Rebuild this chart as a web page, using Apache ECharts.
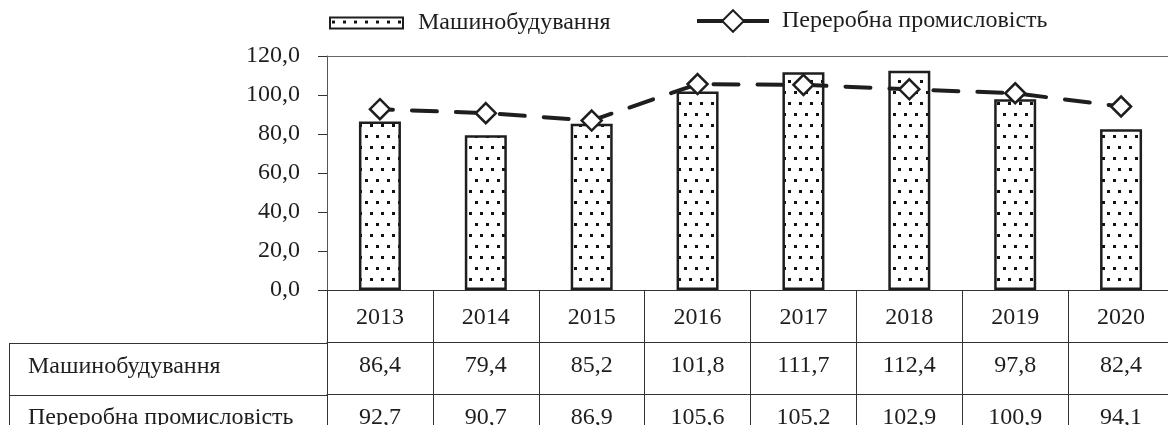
<!DOCTYPE html>
<html>
<head>
<meta charset="utf-8">
<script src="https://cdn.jsdelivr.net/npm/echarts@6/dist/echarts.min.js"></script>
<style>
  html, body { margin: 0; padding: 0; background: #fff; }
  #chart { width: 1168px; height: 425px; }
</style>
</head>
<body>
<div id="chart"></div>
<script>
const years = ["2013", "2014", "2015", "2016", "2017", "2018", "2019", "2020"];
const machinery = [86.4, 79.4, 85.2, 101.8, 111.7, 112.4, 97.8, 82.4];
const processing = [92.7, 90.7, 86.9, 105.6, 105.2, 102.9, 100.9, 94.1];
const machineryName = "Машинобудування";
const processingName = "Переробна промисловість";
const yMin = 0;
const yMax = 120;
const yStep = 20;

const FONT = "Liberation Serif";
const FS = 24;
const INK = "#1e1e1e";

function comma(value) {
  return Number(value).toFixed(1).replace(".", ",");
}

function dotPattern() {
  const c = document.createElement("canvas");
  c.width = 22;
  c.height = 22;
  const ctx = c.getContext("2d");
  ctx.fillStyle = "#111";
  [[2, 3], [13, 3], [7, 14], [18, 14]].forEach(([x, y]) => ctx.fillRect(x, y, 3, 3));
  return c;
}

const chart = echarts.init(document.getElementById("chart"), null, { renderer: "canvas" });
const pattern = { image: dotPattern(), repeat: "repeat" };
const text = { fontFamily: FONT, fontSize: FS, color: INK };

const tableAxis = (offset, values) => ({
  type: "category",
  position: "bottom",
  offset,
  data: years,
  axisLine: { show: true, lineStyle: { color: "#333", width: 1 } },
  axisTick: { show: false },
  axisLabel: { ...text, margin: 12, formatter: (v, i) => comma(values[i]) }
});

chart.setOption({
  animation: false,
  backgroundColor: "#fff",
  textStyle: { fontFamily: FONT },
  legend: [
    {
      top: 11,
      left: 329,
      padding: 0,
      itemWidth: 73,
      itemHeight: 11,
      textStyle: { ...text, padding: [0, 0, 0, 10] },
      data: [{ name: machineryName, icon: "rect" }]
    },
    {
      top: 9,
      left: 695,
      padding: 0,
      itemWidth: 72,
      itemHeight: 27,
      textStyle: { ...text, padding: [0, 0, 0, 8] },
      lineStyle: { width: 4, type: "solid", cap: "butt" },
      data: [{ name: processingName }]
    }
  ],
  grid: { left: 327, right: -6, top: 56, bottom: 135, outerBoundsMode: "none", containLabel: false },
  xAxis: [
    {
      type: "category",
      position: "bottom",
      data: years,
      axisLine: { show: true, lineStyle: { color: "#333", width: 1 } },
      axisTick: { show: true, length: 140, lineStyle: { color: "#333", width: 1 } },
      axisLabel: { ...text, margin: 16 }
    },
    tableAxis(52, machinery),
    tableAxis(104, processing),
    {
      type: "category",
      position: "top",
      data: years,
      axisLine: { show: true, lineStyle: { color: "#666", width: 1 } },
      axisTick: { show: false },
      axisLabel: { show: false }
    }
  ],
  yAxis: {
    type: "value",
    min: yMin,
    max: yMax,
    interval: yStep,
    axisLine: { show: true, lineStyle: { color: "#555", width: 1 } },
    axisTick: { show: true, length: 9, lineStyle: { color: "#333" } },
    splitLine: { show: false },
    axisLabel: { ...text, margin: 27, formatter: v => comma(v) }
  },
  graphic: [
    { type: "line", shape: { x1: 9.5, y1: 343.5, x2: 327, y2: 343.5 }, style: { stroke: "#333", lineWidth: 1 } },
    { type: "line", shape: { x1: 9.5, y1: 395.5, x2: 327, y2: 395.5 }, style: { stroke: "#333", lineWidth: 1 } },
    { type: "line", shape: { x1: 9.5, y1: 343, x2: 9.5, y2: 425 }, style: { stroke: "#333", lineWidth: 1 } },
    { type: "text", left: 28, top: 355, style: { text: machineryName, font: `${FS}px "${FONT}"`, fill: INK } },
    { type: "text", left: 28, top: 406, style: { text: processingName, font: `${FS}px "${FONT}"`, fill: INK } }
  ],
  series: [
    {
      name: machineryName,
      type: "bar",
      xAxisIndex: 0,
      barWidth: 42,
      data: machinery,
      itemStyle: { color: pattern, borderColor: INK, borderWidth: 2.5 }
    },
    {
      name: processingName,
      type: "line",
      xAxisIndex: 0,
      data: processing,
      z: 5,
      symbol: "diamond",
      symbolSize: 20,
      lineStyle: { color: INK, width: 4, type: [25, 19], dashOffset: 12, cap: "round" },
      itemStyle: { color: "#fff", borderColor: INK, borderWidth: 2.5 }
    }
  ]
});
</script>
</body>
</html>
